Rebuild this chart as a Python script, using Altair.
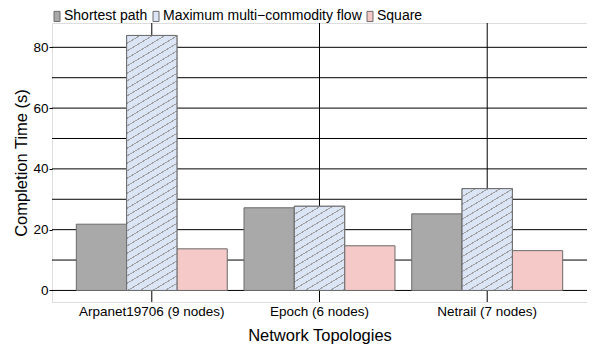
import altair as alt
import pandas as pd

# ---- data ----
topologies = ["Arpanet19706 (9 nodes)", "Epoch (6 nodes)", "Netrail (7 nodes)"]
series_names = ["Shortest path", "Maximum multi\u2212commodity flow", "Square"]
shortest_path = [21.8, 27.2, 25.2]
max_flow = [83.9, 27.7, 33.5]
square = [13.7, 14.7, 13.1]
grid_values = [0, 10, 20, 30, 40, 50, 60, 70, 80]
tick_values = [0, 20, 40, 60, 80]
y_domain = [-3.8, 88]

# ---- styling ----
fills = ["#a9a9a9", "#dbe5f6", "#f5c9c8"]
hatch_color = "#a0a0a0"
bar_stroke = "#6b6b6b"
FONT = "Liberation Sans"
W, H = 535, 279
P_INNER, P_OUTER = 0.1, 0.145

rows = []
for i, t in enumerate(topologies):
    for s, vals in zip(series_names, [shortest_path, max_flow, square]):
        rows.append({"topology": t, "series": s, "value": vals[i]})
df = pd.DataFrame(rows)
grid_df = pd.DataFrame({"value": grid_values})
cat_df = pd.DataFrame({"topology": topologies})

x_scale = alt.Scale(domain=topologies, paddingInner=P_INNER, paddingOuter=P_OUTER)
xo_scale = alt.Scale(domain=series_names, paddingInner=0, paddingOuter=0)
y_scale = alt.Scale(domain=y_domain, nice=False, zero=False)

x_axis = alt.Axis(title="Network Topologies", labelAngle=0, ticks=False, tickSize=0,
                  domain=False, grid=False, labelPadding=2, labelFont=FONT,
                  labelFontSize=13.5, labelColor="black", labelLimit=0, titleFont=FONT,
                  titleFontSize=16.5, titleFontWeight="normal", titleColor="black",
                  titleY=38, titleBaseline="alphabetic")
y_axis = alt.Axis(title="Completion Time (s)", values=tick_values, tickSize=3,
                  tickColor="black", labelPadding=1, grid=False, domain=False,
                  labelFont=FONT, labelFontSize=13.5, labelColor="black",
                  titleFont=FONT, titleFontSize=16.5, titleFontWeight="normal",
                  titleColor="black", titleX=-31, titleY=H / 2,
                  titleAlign="center", titleBaseline="middle")


def X():
    return alt.X("topology:N", sort=topologies, scale=x_scale, axis=x_axis,
                 title="Network Topologies")


def Y():
    return alt.Y("value:Q", scale=y_scale, axis=y_axis, title="Completion Time (s)")


def XO():
    return alt.XOffset("series:N", sort=series_names, scale=xo_scale)


hgrid = alt.Chart(grid_df).mark_rule(color="black", strokeWidth=1).encode(y=Y())
vgrid = alt.Chart(cat_df).mark_rule(color="black", strokeWidth=1).encode(x=X())

bars = alt.Chart(df).mark_bar(stroke=bar_stroke, strokeWidth=1).encode(
    x=X(),
    xOffset=XO(),
    y=Y(),
    y2=alt.datum(0),
    fill=alt.Fill(
        "series:N", sort=series_names,
        scale=alt.Scale(domain=series_names, range=fills),
        legend=alt.Legend(title=None, orient="none", direction="horizontal",
                          legendX=-2, legendY=-14, padding=0,
                          labelFont=FONT, labelFontSize=14, labelColor="black",
                          labelLimit=0,
                          symbolType="M-0.5,-0.85H0.5V0.85H-0.5Z", symbolSize=144,
                          symbolStrokeColor=bar_stroke, symbolStrokeWidth=1,
                          symbolOpacity=1, columnPadding=1, labelOffset=0),
    ),
)

# hatch fill for the max-flow bars (one gradient per bar so the stripes keep a fixed pitch)
step = W / (len(topologies) - P_INNER + 2 * P_OUTER)
bar_w = step * (1 - P_INNER) / len(series_names)
py = H / (y_domain[1] - y_domain[0])


def hatch(value, slope=0.6, pitch=7.5, frac=0.16, bg=fills[1]):
    h = value * py
    tot = slope * bar_w + h
    k = tot / (slope * slope * bar_w * bar_w + h * h)
    n = tot / pitch
    stops = []
    i = 0
    while i < n:
        a = i / n
        b = min((i + frac) / n, 1.0)
        c = min((i + 1) / n, 1.0)
        stops += [{"offset": a, "color": hatch_color}, {"offset": b, "color": hatch_color},
                  {"offset": b, "color": bg}, {"offset": c, "color": bg}]
        i += 1
    return {"gradient": "linear", "x1": 0, "y1": 0, "x2": k * slope * bar_w,
            "y2": k * h, "stops": stops}


hatch_layers = []
for t, v in zip(topologies, max_flow):
    sub = df[(df.topology == t) & (df.series == series_names[1])]
    hatch_layers.append(
        alt.Chart(sub).mark_bar(fill=hatch(v), stroke=bar_stroke, strokeWidth=1).encode(
            x=X(), xOffset=XO(), y=Y(), y2=alt.datum(0),
        )
    )

chart = alt.layer(hgrid, vgrid, bars, *hatch_layers).properties(
    width=W, height=H,
    autosize=alt.AutoSizeParams(type="none"),
    padding={"left": 44, "top": 15, "right": 0, "bottom": 44},
).configure_view(stroke="black", strokeWidth=1).configure(background="white")

chart.save("out.html", embed_options={"renderer": "svg", "actions": False})
